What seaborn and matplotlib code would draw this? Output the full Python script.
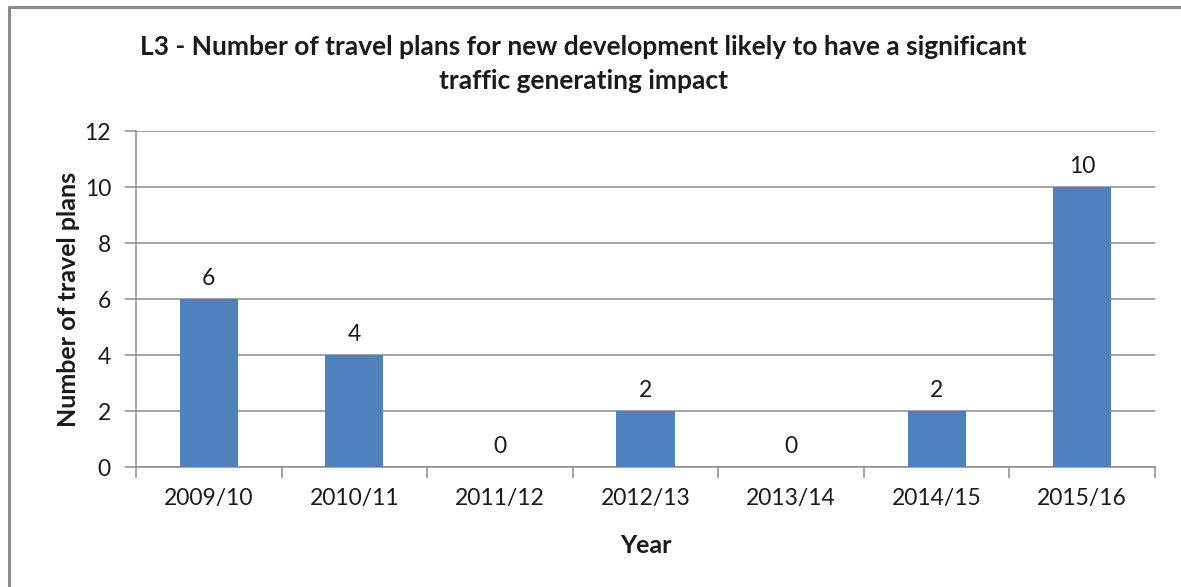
import matplotlib
matplotlib.use("Agg")
import matplotlib.pyplot as plt
from matplotlib.lines import Line2D
import seaborn as sns
import pandas as pd

years = ["2009/10", "2010/11", "2011/12", "2012/13", "2013/14", "2014/15", "2015/16"]
plans = [6, 4, 0, 2, 0, 2, 10]
y_ticks = [0, 2, 4, 6, 8, 10, 12]

title = ("L3 - Number of travel plans for new development likely to have a significant\n"
         "traffic generating impact")

sns.set_theme(style="white")
plt.rcParams["font.family"] = ["Lato", "DejaVu Sans"]

df = pd.DataFrame({"Year": years, "Plans": plans})

fig = plt.figure(figsize=(11.81, 5.87), dpi=100)
ax = fig.add_axes([136 / 1181, 1 - 467 / 587, (1155 - 136) / 1181, (467 - 131) / 587])

bar_color = "#4F81BD"
grid_color = "#8C8C8C"
text_color = "#1a1a1a"

sns.barplot(data=df, x="Year", y="Plans", color=bar_color, width=0.4,
            saturation=1, linewidth=0, edgecolor="none", ax=ax, zorder=3)

ax.set_ylim(0, 12)
ax.set_xlim(-0.5, len(years) - 0.5)
ax.set_yticks(y_ticks)
ax.yaxis.grid(True, color=grid_color, linewidth=1.1, zorder=0)
ax.set_axisbelow(True)

for side in ["top", "right"]:
    ax.spines[side].set_visible(False)
for side in ["left", "bottom"]:
    ax.spines[side].set_color(grid_color)
    ax.spines[side].set_linewidth(1.1)

# category ticks sit on the boundaries between bars
ax.set_xticks([i - 0.5 for i in range(len(years) + 1)], minor=True)
ax.tick_params(axis="x", which="major", length=0, pad=15, labelsize=16.5, colors=text_color)
ax.tick_params(axis="x", which="minor", length=8, width=1.1, color=grid_color, bottom=True)
ax.tick_params(axis="y", length=8, width=1.1, color=grid_color, left=True, pad=10,
               labelsize=16.5, labelcolor=text_color)

# value labels above each bar
for i, v in enumerate(plans):
    ax.text(i, v + 0.35, str(v), ha="center", va="bottom", fontsize=16.5, color=text_color)

ax.set_xlabel("Year", fontsize=18, fontweight="bold", color=text_color, labelpad=18)
ax.set_ylabel("Number of travel plans", fontsize=18, fontweight="bold", color=text_color,
              labelpad=3)

fig.text(0.494, 1 - 64 / 587, title, ha="center", va="center", fontsize=19,
         fontweight="bold", color=text_color, linespacing=1.5)

# frame edges along the left and top of the chart area
border = "#8A8A8A"
fig.add_artist(Line2D([9 / 1181, 9 / 1181], [0, 1 - 7 / 587], color=border, linewidth=2.2))
fig.add_artist(Line2D([9 / 1181, 1], [1 - 7 / 587, 1 - 7 / 587], color=border, linewidth=2.2))

fig.savefig("out.png", dpi=100)
